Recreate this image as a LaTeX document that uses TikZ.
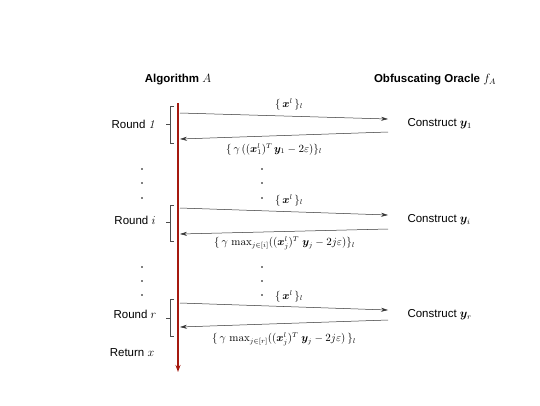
\documentclass[tikz,border=0pt]{standalone}
\usepackage{amsmath,amssymb,bm}
\usepackage[no-math]{fontspec}
\setmainfont{Liberation Sans}
\usetikzlibrary{arrows.meta}
\begin{document}
\begin{tikzpicture}[x=1pt,y=-1pt,font=\fontsize{11.5}{13}\selectfont,
  msg/.style={-{Stealth[length=7pt,width=4pt]},draw=black!80,line width=0.5pt},
  lab/.style={font=\fontsize{10.5}{12}\selectfont,inner sep=0pt},
  brk/.style={draw=black!70,line width=0.6pt},
  dotc/.style={circle,fill=black,inner sep=0pt,minimum size=1.6pt},
  head/.style={font=\bfseries\fontsize{11.5}{13}\selectfont},
  time/.style={draw={rgb,255:red,165;green,25;blue,15},line width=1.5pt,-{Stealth[length=7pt,width=5pt]}}]
\useasboundingbox (0,0) rectangle (540,405);
% headers
\node[head] (alg) at (178,80) {Algorithm $A$};
\node[head] (orc) at (435,80) {Obfuscating Oracle $f_A$};
% time line
\coordinate (top) at (178,103);
\coordinate (bot) at (178,372);
\draw[time] (top) -- (bot);
% rounds
\node (r1) at (134,124) {Round $\mathit{1}$};
\node (ri) at (135,220) {Round $i$};
\node (rr) at (135,314) {Round $r$};
\node (ret) at (132,353) {Return $x$};
% constructs
\node[anchor=west] (c1) at (404,124) {Construct $\bm{y}_1$};
\node[anchor=west] (ci) at (404,220) {Construct $\bm{y}_i$};
\node[anchor=west] (cr) at (404,315) {Construct $\bm{y}_r$};
% brackets
\draw[brk] (174,106) -- (170,106) -- (170,143) -- (174,143);
\draw[brk] (170,124) -- (166,124);
\draw[brk] (174,205) -- (170,205) -- (170,241) -- (174,241);
\draw[brk] (170,222) -- (166,222);
\draw[brk] (174,299) -- (170,299) -- (170,336) -- (174,336);
\draw[brk] (170,318) -- (166,318);
% round 1 messages
\coordinate (a1s) at (180,113); \coordinate (a1e) at (388,119);
\coordinate (b1s) at (388,132); \coordinate (b1e) at (180,139);
\draw[msg] (a1s) -- (a1e);
\draw[msg] (b1s) -- (b1e);
\node[lab] (l1a) at (289,104) {$\{\,\bm{x}^l\,\}_l$};
\node[lab,anchor=west] (l1b) at (226,149) {$\{\,\gamma\,((\bm{x}_1^l)^T\,\bm{y}_1-2\varepsilon)\}_l$};
% round i messages
\coordinate (ais) at (180,208); \coordinate (aie) at (388,215);
\coordinate (bis) at (388,229); \coordinate (bie) at (180,234);
\draw[msg] (ais) -- (aie);
\draw[msg] (bis) -- (bie);
\node[lab] (lia) at (289,200) {$\{\,\bm{x}^l\,\}_l$};
\node[lab,anchor=west] (lib) at (214,243) {$\{\,\gamma\,\max_{j\in[i]}((\bm{x}_j^l)^T\;\bm{y}_j-2j\varepsilon)\}_l$};
% round r messages
\coordinate (ars) at (180,303); \coordinate (are) at (388,310);
\coordinate (brs) at (388,320); \coordinate (bre) at (180,327);
\draw[msg] (ars) -- (are);
\draw[msg] (brs) -- (bre);
\node[lab] (lra) at (289,296) {$\{\,\bm{x}^l\,\}_l$};
\node[lab,anchor=west] (lrb) at (212,339) {$\{\,\gamma\,\max_{j\in[r]}((\bm{x}_j^l)^T\;\bm{y}_j-2j\varepsilon)\,\}_l$};
% dots
\foreach \yy [count=\k] in {169,183,198,267,281,295}{
  \node[dotc] (dl\k) at (142,\yy) {};
  \node[dotc] (dm\k) at (262,\yy) {};
}
\end{tikzpicture}
\end{document}
